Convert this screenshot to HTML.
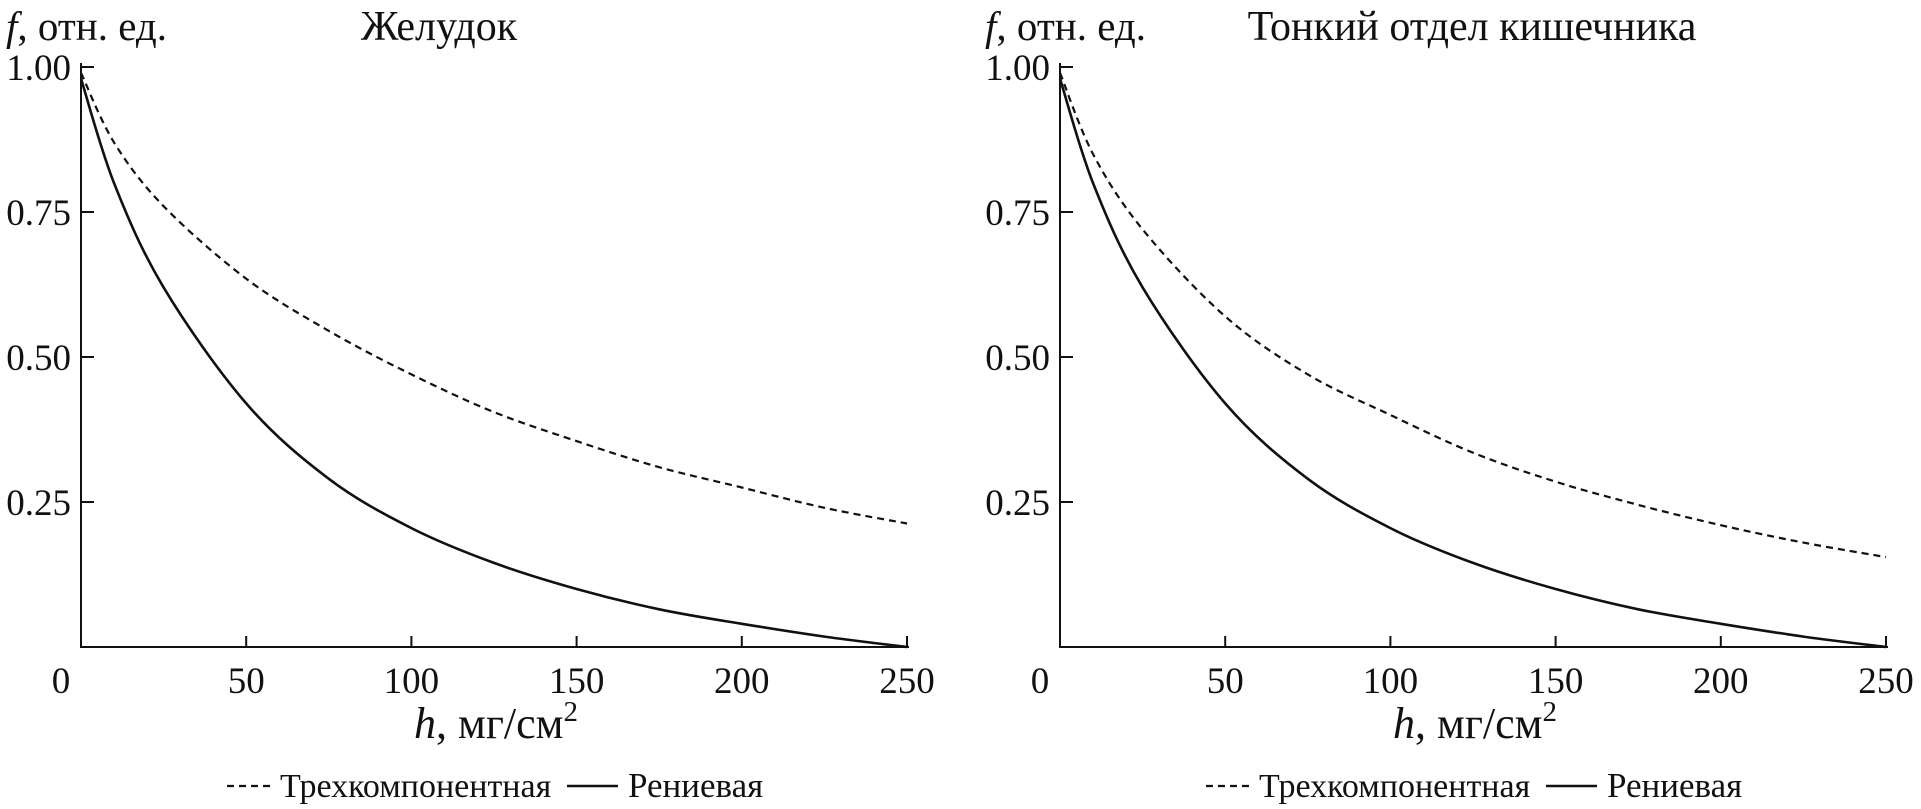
<!DOCTYPE html>
<html><head><meta charset="utf-8"><style>
html,body{margin:0;padding:0;background:#fff;}
svg{display:block;font-family:"Liberation Serif",serif;}
</style></head><body>
<svg id="chart" width="1921" height="809" viewBox="0 0 1921 809"></svg>
<script>
const xTicks=[0,50,100,150,200,250];
const yTicks=[0.25,0.5,0.75,1.0];
const yTickLabels=["0.25","0.50","0.75","1.00"];
const hValues=[0,10,25,50,75,100,125,150,175,200,225,250];
const stomachThree=[0.99,0.87,0.76,0.635,0.545,0.47,0.405,0.355,0.31,0.275,0.24,0.213];
const stomachRhenium=[0.98,0.8,0.62,0.42,0.29,0.205,0.145,0.1,0.065,0.04,0.018,0.0];
const intestineThree=[0.99,0.85,0.72,0.57,0.47,0.4,0.335,0.285,0.245,0.21,0.18,0.155];
const intestineRhenium=[0.98,0.8,0.62,0.42,0.29,0.205,0.145,0.1,0.065,0.04,0.018,0.0];
const panels=[
 {name:"stomach",title:"Желудок",tOff:358,x0:81,three:stomachThree,rh:stomachRhenium},
 {name:"small-intestine",title:"Тонкий отдел кишечника",tOff:412,x0:1060,three:intestineThree,rh:intestineRhenium}
];
const NS="http://www.w3.org/2000/svg";
const svg=document.getElementById('chart');
function mk(tag,attrs,parent,text){const e=document.createElementNS(NS,tag);for(const k in attrs)e.setAttribute(k,attrs[k]);if(text!==undefined)e.textContent=text;parent.appendChild(e);return e;}
const W=826,yBot=647,yTop=67;
function smooth(pts){
 let d='M'+pts[0][0].toFixed(1)+','+pts[0][1].toFixed(1);
 for(let i=0;i<pts.length-1;i++){
  const p0=pts[Math.max(0,i-1)],p1=pts[i],p2=pts[i+1],p3=pts[Math.min(pts.length-1,i+2)];
  const c1=[p1[0]+(p2[0]-p0[0])/6,p1[1]+(p2[1]-p0[1])/6];
  const c2=[p2[0]-(p3[0]-p1[0])/6,p2[1]-(p3[1]-p1[1])/6];
  d+=` C${c1[0].toFixed(1)},${c1[1].toFixed(1)} ${c2[0].toFixed(1)},${c2[1].toFixed(1)} ${p2[0].toFixed(1)},${p2[1].toFixed(1)}`;
 }
 return d;
}
panels.forEach(p=>{
 const g=mk('g',{},svg);
 
 
 const sx=v=>p.x0+v/250*W;
 const sy=v=>yBot-v*(yBot-yTop);
 const ax=mk('path',{d:`M${p.x0},${yTop-4} L${p.x0},${yBot} L${p.x0+W+2},${yBot}`,fill:'none',stroke:'#111','stroke-width':2},g);
 
 
 xTicks.forEach(t=>{
  if(t>0){const l=mk('line',{x1:sx(t),x2:sx(t),y1:yBot,y2:yBot-11,stroke:'#111','stroke-width':2},g);
  
  }
  const tx=mk('text',{x:t===0?sx(t)-20:sx(t),y:693,'font-size':37,'text-anchor':'middle',fill:'#111'},g,String(t));
  
  
 });
 yTicks.forEach((t,i)=>{
  const l=mk('line',{x1:p.x0,x2:p.x0+13,y1:sy(t),y2:sy(t),stroke:'#111','stroke-width':2},g);
  
  
  const tx=mk('text',{x:p.x0-10,y:sy(t)+13,'font-size':37,'text-anchor':'end',fill:'#111'},g,yTickLabels[i]);
  
  
 });
 const yt=mk('text',{x:p.x0-75,y:40,'font-size':41,fill:'#111'},g);
 
 
 mk('tspan',{'font-style':'italic'},yt,'f');
 mk('tspan',{},yt,', отн. ед.');
 const tt=mk('text',{x:p.x0+p.tOff,y:40,'font-size':42,'text-anchor':'middle',fill:'#111'},g,p.title);
 
 
 const xt=mk('text',{x:p.x0+415,y:738,'font-size':44,'text-anchor':'middle',fill:'#111'},g);
 
 
 mk('tspan',{'font-style':'italic'},xt,'h');
 mk('tspan',{},xt,', мг/см');
 mk('tspan',{'font-size':29,dy:-17},xt,'2');
 function line(vals,dash,name){
  const pts=hValues.map((h,i)=>[sx(h),sy(vals[i])]);
  const pa=mk('path',{d:smooth(pts),fill:'none',stroke:'#111','stroke-width':dash?2.2:2.6,'stroke-dasharray':dash?'7,5':'none','stroke-linejoin':'round'},g);
  
  
 }
 line(p.three,true,'series-three-component');
 line(p.rh,false,'series-rhenium');
 const lx=p.x0+146;
 const lg=mk('g',{},g);
 
 
 mk('line',{x1:lx,x2:lx+45,y1:786,y2:786,stroke:'#111','stroke-width':2.2,'stroke-dasharray':'7,5'},lg);
 mk('text',{x:lx+53,y:797,'font-size':34,fill:'#111'},lg,'Трехкомпонентная');
 mk('line',{x1:lx+340,x2:lx+391,y1:786,y2:786,stroke:'#111','stroke-width':2.6},lg);
 mk('text',{x:lx+401,y:797,'font-size':35,fill:'#111'},lg,'Рениевая');
});
</script>
</body></html>
